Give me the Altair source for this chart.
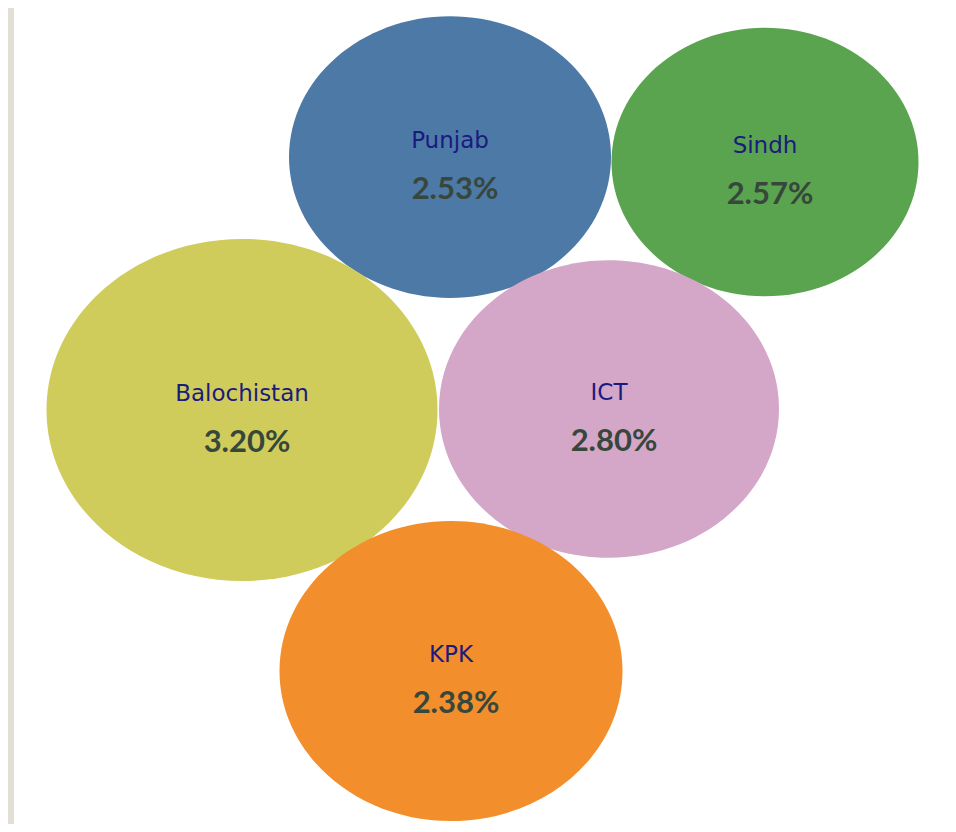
import altair as alt
import pandas as pd

regions = ["Punjab", "Sindh", "Balochistan", "ICT", "KPK"]
values = ["2.53%", "2.57%", "3.20%", "2.80%", "2.38%"]
colors = ["#4d79a7", "#5aa34f", "#cfcc5c", "#d4a6c8", "#f28e2c"]
# bubble layout (centre x, centre y, width) in chart pixels
cx = [442, 757, 234, 601, 443]
cy = [149, 154, 402, 401, 663]
w = [322, 307, 391, 340, 343]

df = pd.DataFrame({
    "region": regions, "value": values, "color": colors,
    "cx": cx, "cy": cy, "size": [v * v for v in w],
})

W, H = 940, 816
xs = alt.Scale(domain=[0, W], range=[0, W], nice=False, zero=False)
ys = alt.Scale(domain=[0, H], range=[0, H], nice=False, zero=False)
X = alt.X("cx:Q", scale=xs, axis=None)
Y = alt.Y("cy:Q", scale=ys, axis=None)

ellipse = "M -1 0 A 1 0.875 0 1 1 1 0 A 1 0.875 0 1 1 -1 0 Z"

frame = alt.Chart(pd.DataFrame({"a": [0]})).mark_rect(color="#e4dfd6").encode(
    x=alt.value(0), x2=alt.value(6), y=alt.value(0), y2=alt.value(H)
)

bubbles = alt.Chart(df).mark_point(
    shape=ellipse, filled=True, opacity=1, strokeWidth=0
).encode(
    x=X, y=Y,
    size=alt.Size("size:Q", scale=None, legend=None),
    color=alt.Color("color:N", scale=None, legend=None),
)

names = alt.Chart(df).mark_text(
    font="DejaVu Sans", fontSize=23, color="#1b1b7e", dy=-16, baseline="middle"
).encode(x=X, y=Y, text="region:N")

pcts = alt.Chart(df).mark_text(
    font="Lato", fontSize=31, fontWeight="bold", color="#37473b", dy=33, dx=5,
    baseline="middle"
).encode(x=X, y=Y, text="value:N")

chart = alt.layer(frame, bubbles, names, pcts).properties(
    width=W, height=H, padding=0, background="white",
).configure_view(stroke=None)

chart.save("out.html", embed_options={"renderer": "svg", "actions": False})
